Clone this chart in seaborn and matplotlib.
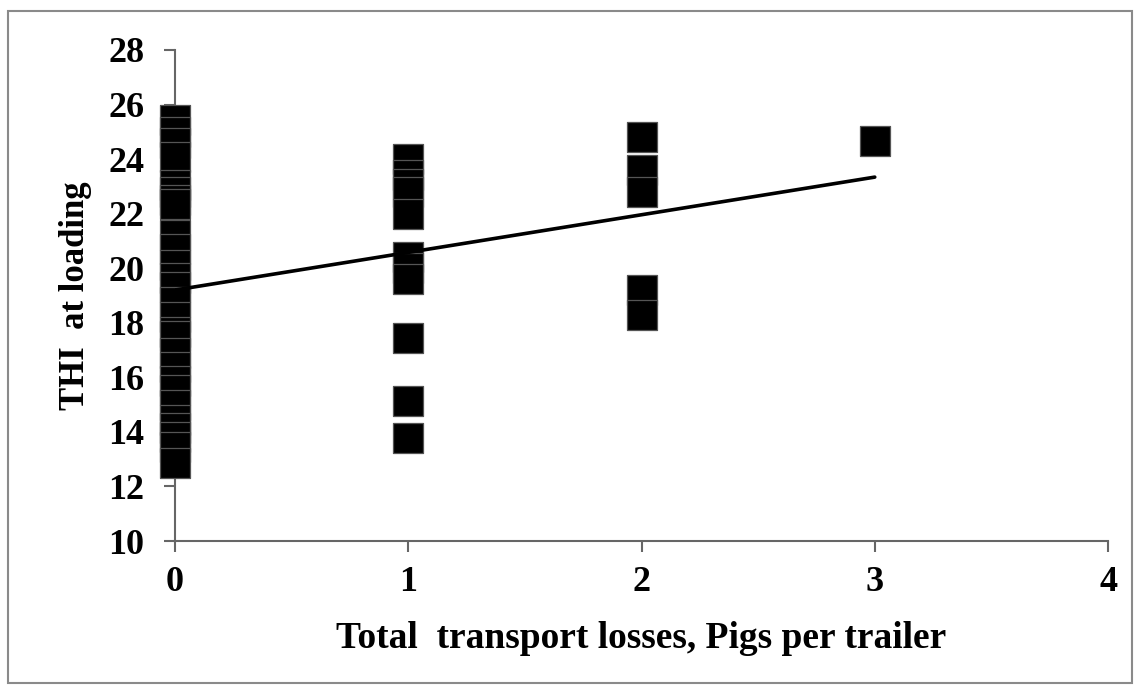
import matplotlib
matplotlib.use("Agg")
import matplotlib.pyplot as plt
import seaborn as sns
import pandas as pd
import numpy as np
from matplotlib.patches import Rectangle

# ---- data ----
losses_0 = [25.43, 25.0, 24.6, 24.09, 23.05, 22.80, 22.50, 22.35, 21.22, 20.7, 20.12,
            19.64, 19.32, 18.77, 18.2, 17.67, 17.51, 16.9, 16.39, 15.87, 15.54,
            15.0, 14.44, 14.15, 13.82, 13.46, 12.86]
losses_1 = [24.0, 23.4, 23.1, 22.8, 22.0, 20.4, 20.0, 19.6, 17.46, 15.13, 13.79]
losses_2 = [24.8, 23.6, 22.8, 19.2, 18.3]
losses_3 = [24.66]
trend_intercept = 19.2
trend_slope = 1.38
trend_x = [0, 3]
x_ticks = [0, 1, 2, 3, 4]
y_ticks = [10, 12, 14, 16, 18, 20, 22, 24, 26, 28]

xs = [0] * len(losses_0) + [1] * len(losses_1) + [2] * len(losses_2) + [3] * len(losses_3)
ys = losses_0 + losses_1 + losses_2 + losses_3
df = pd.DataFrame({"losses": xs, "thi": ys})
trend = pd.DataFrame({"x": trend_x,
                      "y": [trend_intercept + trend_slope * v for v in trend_x]})

sns.set_style("white")
plt.rcParams["font.family"] = ["Liberation Serif", "DejaVu Serif"]
plt.rcParams["font.weight"] = "bold"
plt.rcParams["text.color"] = "black"
plt.rcParams["axes.labelcolor"] = "black"
plt.rcParams["xtick.color"] = "black"
plt.rcParams["ytick.color"] = "black"

fig = plt.figure(figsize=(11.4, 6.93), dpi=100)
ax = fig.add_axes([175 / 1140, 1 - 541 / 693, (1108 - 175) / 1140, (541 - 50) / 693])

sns.scatterplot(data=df, x="losses", y="thi", ax=ax, marker="s", s=470,
                color="black", edgecolor="#555555", linewidth=0.9, zorder=3,
                legend=False, clip_on=False)
sns.lineplot(data=trend, x="x", y="y", ax=ax, color="black", linewidth=2.6,
             zorder=4, legend=False)

ax.set_xlim(0, 4)
ax.set_ylim(10, 28)
ax.set_xticks(x_ticks)
ax.set_yticks(y_ticks)
ax.set_xticklabels([str(v) for v in x_ticks], fontsize=26, fontweight="bold")
ax.set_yticklabels([str(v) for v in y_ticks], fontsize=26, fontweight="bold")
ax.tick_params(axis="both", direction="out", length=8, width=1.5, color="#666666",
               labelcolor="black", left=True, bottom=True)
ax.tick_params(axis="y", pad=14)
ax.tick_params(axis="x", pad=10)
ax.set_xlabel("Total  transport losses, Pigs per trailer", fontsize=27,
              fontweight="bold", labelpad=16, color="black")
ax.set_ylabel("THI  at loading", fontsize=25, fontweight="bold", labelpad=12,
              color="black")
for side in ["top", "right"]:
    ax.spines[side].set_visible(False)
for side in ["left", "bottom"]:
    ax.spines[side].set_color("#666666")
    ax.spines[side].set_linewidth(1.5)
ax.set_facecolor("white")

fig.patches.append(Rectangle((8 / 1140, 1 - 683 / 693), (1132 - 8) / 1140, (683 - 11) / 693,
                             transform=fig.transFigure, fill=False,
                             edgecolor="#8a8a8a", linewidth=1.5))

fig.savefig("out.png", dpi=100, facecolor="white")
